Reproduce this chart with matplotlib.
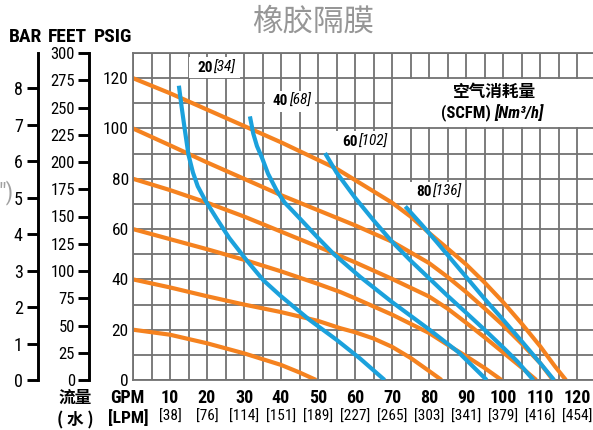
import matplotlib
matplotlib.use('Agg')
import matplotlib.pyplot as plt
from matplotlib import font_manager as fm
from matplotlib.patches import Rectangle

# ------------------------------------------------------------------ data
gpm_ticks = [10, 20, 30, 40, 50, 60, 70, 80, 90, 100, 110, 120]
lpm_labels = ['[38]', '[76]', '[114]', '[151]', '[189]', '[227]', '[265]',
              '[303]', '[341]', '[379]', '[416]', '[454]']
psig_ticks = [0, 20, 40, 60, 80, 100, 120]
feet_ticks = [0, 25, 50, 75, 100, 125, 150, 175, 200, 225, 250, 275, 300]
bar_ticks = [0, 1, 2, 3, 4, 5, 6, 7, 8]

# discharge head curves at given air inlet pressure (psig)
air_psi = [20, 40, 60, 80, 100, 120]
p20_gpm = [0, 10, 20, 30, 40, 45, 49.5]
p20_psi = [20, 18, 14.6, 10.6, 6, 3, 0]
p40_gpm = [0, 10, 20, 30, 40, 50, 56, 60, 65, 70, 75, 80, 83.4]
p40_psi = [40, 36.8, 33.3, 30, 27, 23.5, 20.6, 19, 16.5, 13.2, 8.8, 3.6, 0]
p60_gpm = [0, 10, 20, 30, 40, 50, 56, 60, 70, 80, 85, 90, 95, 99.6]
p60_psi = [60, 56, 52, 47.8, 43.2, 38.2, 35, 32.5, 26, 18.7, 14, 9.5, 4.8, 0]
p80_gpm = [0, 10, 20, 30, 40, 50, 60, 70, 80, 85, 90, 95, 100, 105, 109]
p80_psi = [80, 75.5, 70.5, 65, 59, 53, 46.8, 40.2, 33.2, 28.4, 22.8, 17, 11, 5, 0]
p100_gpm = [0, 10, 20, 30, 40, 50, 60, 70, 80, 85, 90, 95, 100, 105, 110, 113.5]
p100_psi = [100, 93.3, 86.5, 80, 73.5, 67.5, 61.5, 55, 46.5, 41, 35, 28.5, 21.8, 14.5, 6.8, 0]
p120_gpm = [0, 10, 20, 30, 40, 50, 55, 60, 65, 70, 75, 80, 85, 90, 95, 100, 105, 110, 114, 117]
p120_psi = [120, 114, 107.5, 101, 94.5, 87.5, 84, 79.5, 75, 70.5, 65, 58.5, 52.3, 46, 38.8, 31, 22.5, 13.5, 5.5, 0]

# air consumption curves (SCFM) [Nm3/h]
scfm_values = [20, 40, 60, 80]
nm3h_values = [34, 68, 102, 136]
a20_gpm = [12.4, 13.1, 14, 15, 16.2, 17.5, 19.5, 22.6, 26, 30.7, 35.2, 40, 47.8, 55, 61.4, 68]
a20_psi = [117, 109, 99.5, 89.5, 82.5, 77, 71.5, 64.2, 56.5, 47.6, 39.7, 33.3, 23.8, 16, 8.5, 0]
a40_gpm = [31.6, 32.5, 33.5, 34.8, 36.5, 38.8, 41, 43.3, 45.1, 50, 54.1, 61.4, 70, 80.3, 88, 95.6]
a40_psi = [104.8, 98, 93, 88.6, 82, 75.4, 70.5, 67, 64.2, 56.5, 50.3, 41, 31, 19.8, 11, 0]
a60_gpm = [51.9, 55, 60, 65, 70, 75, 80, 85, 90, 95, 100, 104, 108.2]
a60_psi = [90.2, 82.5, 72.5, 63.5, 55, 47.5, 40.5, 33.5, 26.8, 20, 13, 7.2, 0]
a80_gpm = [73.6, 78, 82, 86, 90.6, 95, 100, 105, 110, 113.8]
a80_psi = [69, 61.8, 55, 48, 40, 32.3, 24, 15.5, 6.8, 0]

# ------------------------------------------------------------------ style
W, H = 593, 430
ORANGE = '#f5821f'
BLUE = '#1ba1dc'
GRID = '#727272'

names = {f.name for f in fm.fontManager.ttflist}
NARROW = 'DejaVu Sans'
for cand in ['Roboto Condensed', 'Archivo Narrow', 'PT Sans Narrow',
             'Barlow Semi Condensed', 'Fira Sans Condensed',
             'Liberation Sans Narrow', 'Liberation Sans']:
    if cand in names:
        NARROW = cand
        break
NF = [NARROW, 'DejaVu Sans']
CJK = ['Noto Sans CJK SC', 'DejaVu Sans']


def fx(px):
    return px / W


def fy(py):
    return 1 - py / H


fig = plt.figure(figsize=(W / 100, H / 100), dpi=100)
fig.patch.set_facecolor('white')

# ------------------------------------------------------------------ main axes
ax = fig.add_axes([fx(133), fy(380), (W - 133) / W, 327 / H])
ax.set_xlim(0, (W - 133) / 3.7)
ax.set_ylim(0, 130)
ax.set_xticks(range(0, 125, 5))
ax.set_xticklabels([])
ax.set_yticks(psig_ticks)
ax.set_yticks(range(0, 131, 10), minor=True)
ax.set_yticklabels([str(v) for v in psig_ticks], fontfamily=NF, fontsize=12.5)
ax.tick_params(which='both', length=0, pad=3)
ax.grid(which='both', color=GRID, lw=1.3)
ax.set_axisbelow(True)
for s in ['top', 'left', 'bottom']:
    ax.spines[s].set_color(GRID)
    ax.spines[s].set_linewidth(1.3)
ax.spines['right'].set_visible(False)

# white box behind the air-consumption legend
ax.add_patch(Rectangle((70.3, 100.4), 60, 19.2, facecolor='white',
                       edgecolor='none', zorder=1))

press_curves = [(p20_gpm, p20_psi), (p40_gpm, p40_psi), (p60_gpm, p60_psi),
                (p80_gpm, p80_psi), (p100_gpm, p100_psi), (p120_gpm, p120_psi)]
air_curves = [(a20_gpm, a20_psi), (a40_gpm, a40_psi), (a60_gpm, a60_psi),
              (a80_gpm, a80_psi)]
for g, p in press_curves:
    ax.plot(g, p, color=ORANGE, lw=3, zorder=2, solid_capstyle='butt',
            solid_joinstyle='round')
for g, p in air_curves:
    ax.plot(g, p, color=BLUE, lw=3, zorder=3, solid_capstyle='butt',
            solid_joinstyle='round')

# air consumption labels
label_split = [(21.5, 124.2), (41.9, 110.8), (60.8, 94.6), (80.8, 74.7)]
for (xs, ys), s, n in zip(label_split, scfm_values, nm3h_values):
    ax.add_patch(Rectangle((xs - 6.3, ys - 4.2), 13.6, 8.4,
                           facecolor='white', edgecolor='none', zorder=1))
    ax.text(xs, ys, str(s), ha='right', va='center', fontfamily=NF,
            fontweight='bold', fontsize=11, zorder=4)
    ax.text(xs + 0.15, ys, '[%d]' % n, ha='left', va='center', fontfamily=NF,
            fontstyle='italic', fontsize=11, zorder=4)

# x tick labels
for g, l in zip(gpm_ticks, lpm_labels):
    ax.annotate(str(g), xy=(g, 0), xycoords=('data', 'axes fraction'),
                xytext=(0, -18 * 0.72), textcoords='offset points',
                ha='center', va='center', fontfamily=NF,
                fontweight='bold', fontsize=13, annotation_clip=False)
    ax.annotate(l, xy=(g, 0), xycoords=('data', 'axes fraction'),
                xytext=(0, -37 * 0.72), textcoords='offset points',
                ha='center', va='center', fontfamily=NF,
                fontsize=11, annotation_clip=False)

# ------------------------------------------------------------------ FEET axis
axf = fig.add_axes([fx(89), fy(380), 0.0005, 327 / H])
axf.set_ylim(0, 300)
axf.patch.set_visible(False)
for s in ['top', 'right', 'bottom']:
    axf.spines[s].set_visible(False)
axf.spines['left'].set_linewidth(2.1)
axf.set_xticks([])
axf.set_yticks(feet_ticks)
axf.set_yticklabels([str(v) for v in feet_ticks], fontfamily=NF, fontsize=12)
axf.tick_params(axis='y', direction='out', length=8, width=2.1, pad=2)

# ------------------------------------------------------------------ BAR axis
axb = fig.add_axes([fx(38), fy(380), 0.0005, 327 / H])
axb.set_ylim(0, 130 / 14.5038)
axb.patch.set_visible(False)
for s in ['top', 'right', 'bottom']:
    axb.spines[s].set_visible(False)
axb.spines['left'].set_linewidth(2.1)
axb.set_xticks([])
axb.set_yticks(bar_ticks)
axb.set_yticklabels([str(v) for v in bar_ticks], fontfamily=NF, fontsize=13)
axb.tick_params(axis='y', direction='out', length=8, width=2.1, pad=3)

# ------------------------------------------------------------------ texts
bold = dict(fontfamily=NF, fontweight='bold')
fig.text(fx(25), fy(37), 'BAR', ha='center', va='center', fontsize=14, **bold)
fig.text(fx(67), fy(37), 'FEET', ha='center', va='center', fontsize=14, **bold)
fig.text(fx(113), fy(37), 'PSIG', ha='center', va='center', fontsize=14, **bold)

fig.text(fx(313), fy(22), '橡胶隔膜', ha='center', va='center',
         fontfamily=CJK, fontsize=22, color='#969696')

fig.text(fx(495), fy(92), '空气消耗量', ha='center', va='center',
         fontfamily=CJK, fontweight='bold', fontsize=12)
fig.text(fx(491), fy(113), '(SCFM)', ha='right', va='center', fontsize=12, **bold)
fig.text(fx(494), fy(113), '[Nm³/h]', ha='left', va='center', fontsize=12,
         fontstyle='italic', **bold)

fig.text(fx(75), fy(398), '流量', ha='center', va='center',
         fontfamily=CJK, fontweight='bold', fontsize=12)
fig.text(fx(75), fy(420), '( 水 )', ha='center', va='center',
         fontfamily=CJK, fontweight='bold', fontsize=12)
fig.text(fx(127), fy(398), 'GPM', ha='center', va='center', fontsize=13, **bold)
fig.text(fx(128), fy(418), '[LPM]', ha='center', va='center', fontsize=12.5, **bold)

fig.text(fx(14), fy(193), '")', ha='right', va='center', fontfamily=NF,
         fontsize=17, color='#a0a0a0')

fig.savefig('out.png', dpi=100, facecolor='white')
